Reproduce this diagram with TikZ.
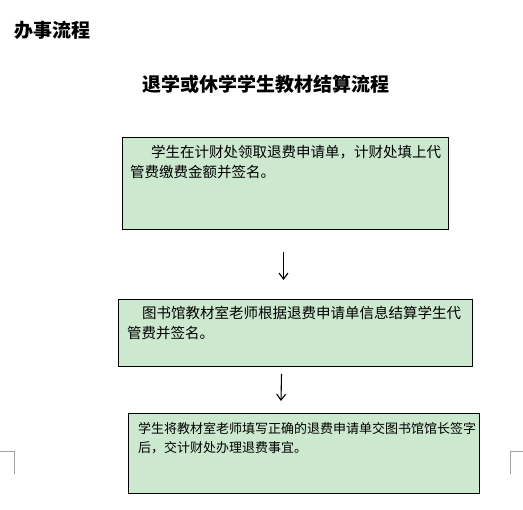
\documentclass[tikz,border=0pt]{standalone}
\usepackage{fontspec}
\setmainfont{Noto Sans CJK SC}
\usepackage{tikz}
\usetikzlibrary{positioning, arrows.meta}
\definecolor{eyeGreen}{HTML}{CCE8CF}
\definecolor{markGray}{HTML}{A0A0A0}

\begin{document}
\begin{tikzpicture}[x=1pt, y=-1pt,
    stepbox/.style={draw, line width=1pt, fill=eyeGreen, anchor=north west, inner sep=0pt},
    steptext/.style={inner sep=0pt, align=left, font=\fontsize{14.5}{20}\selectfont},
    flow/.style={-{Straight Barb[length=6pt, width=9pt]}, line width=1.1pt},
    margin/.style={draw=markGray, line width=0.8pt},
  ]
  \useasboundingbox (0,0) rectangle (523,510);

  % headings
  \node[anchor=west, inner sep=0pt, font=\fontsize{19}{22}\selectfont\bfseries] (head) at (14,30) {办事流程};
  \node[inner sep=0pt, font=\fontsize{19}{22}\selectfont\bfseries] (title) at (266,84) {退学或休学学生教材结算流程};

  % boxes
  \node[stepbox, minimum width=326pt, minimum height=92pt] (b1) at (122,137) {};
  \node[stepbox, minimum width=354pt, minimum height=67pt] (b2) at (118,299) {};
  \node[stepbox, minimum width=351pt, minimum height=80pt] (b3) at (128,413) {};

  \node[steptext, below right=8pt and 8pt of b1.north west] (t1)
    {\hspace{21pt}学生在计财处领取退费申请单，计财处填上代\\管费缴费金额并签名。};
  \node[steptext, below right=7pt and 9pt of b2.north west] (t2)
    {\hspace{15pt}图书馆教材室老师根据退费申请单信息结算学生代\\管费并签名。};
  \node[steptext, font=\fontsize{13}{19}\selectfont, below right=9pt and 10pt of b3.north west] (t3)
    {学生将教材室老师填写正确的退费申请单交图书馆馆长签字\\后，交计财处办理退费事宜。};

  % arrows
  \draw[flow] ([shift={(-2,22)}]b1.south) -- ([shift={(-12,-19)}]b2.north);
  \draw[flow] ([shift={(-14,7)}]b2.south) -- ([shift={(-23,-12)}]b3.north);

  % page corner marks
  \coordinate (cl) at (0,451);
  \coordinate (cr) at (523,451);
  \draw[margin] (cl) -- ++(14,0) -- ++(0,23);
  \draw[margin] (cr) -- ++(-13,0) -- ++(0,23);
\end{tikzpicture}
\end{document}
